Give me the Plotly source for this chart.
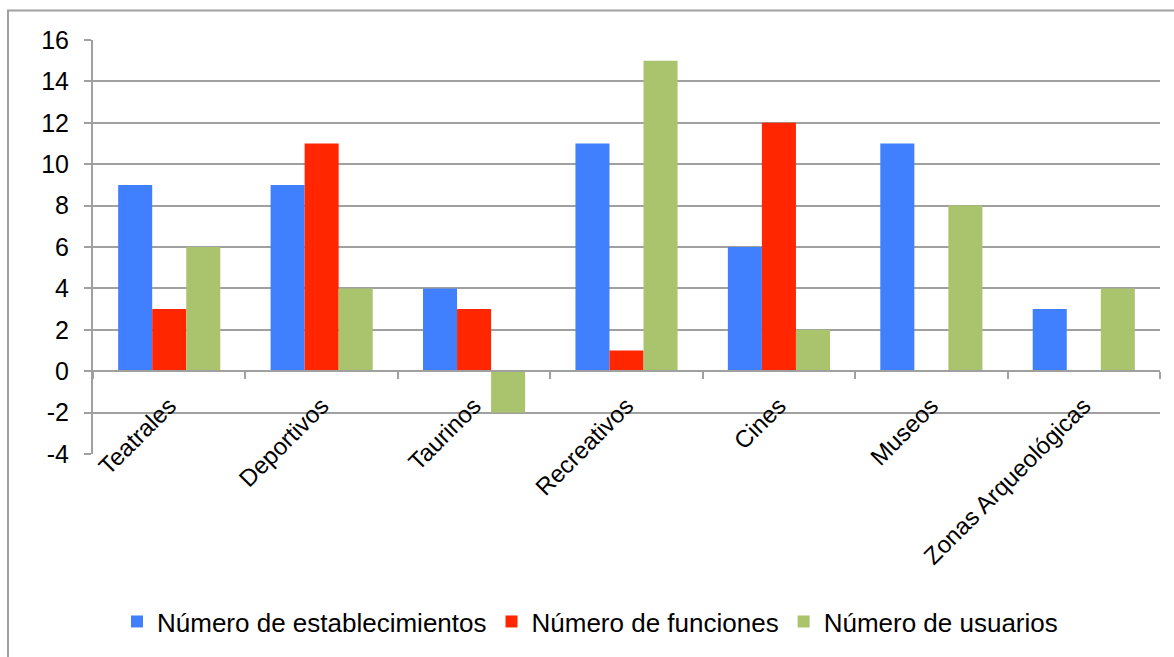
import plotly.graph_objects as go

categories = ["Teatrales", "Deportivos", "Taurinos", "Recreativos", "Cines", "Museos", "Zonas Arqueológicas"]
establecimientos = [9, 9, 4, 11, 6, 11, 3]
funciones = [3, 11, 3, 1, 12, None, None]
usuarios = [6, 4, -2, 15, 2, 8, 4]
series_names = ["Número de establecimientos", "Número de funciones", "Número de usuarios"]
colors = ["#4080FF", "#FF2600", "#A9C46C"]
y_ticks = [-4, -2, 0, 2, 4, 6, 8, 10, 12, 14, 16]

W, H = 1174, 657
L, R, T, B = 93, 14, 40, 197
pw = W - L - R
ph = H - T - B

fig = go.Figure()
for name, vals, col in zip(series_names, [establecimientos, funciones, usuarios], colors):
    fig.add_trace(go.Bar(x=categories, y=vals, name=name, marker=dict(color=col, line=dict(width=0))))

font = "Arial, Liberation Sans, Helvetica, sans-serif"
zero_pos = (0 - (-4)) / (16 - (-4))

fig.update_layout(
    width=W, height=H,
    margin=dict(l=L, r=R, t=T, b=B),
    paper_bgcolor="white", plot_bgcolor="white",
    barmode="group", bargap=0.33, bargroupgap=0,
    font=dict(family=font, color="black"),
    showlegend=True,
    legend=dict(orientation="h", x=(590 - L) / pw, xanchor="center", y=(-170) / ph, yanchor="middle",
                font=dict(size=26, family=font), itemwidth=30, traceorder="normal"),
    xaxis=dict(type="category", anchor="free", position=zero_pos, showline=True, linecolor="#A0A0A0",
               linewidth=2, ticks="outside", tickson="boundaries", ticklen=7, tickcolor="#A0A0A0",
               tickwidth=2, tickangle=-45, tickfont=dict(size=24, family=font), showgrid=False,
               ticklabelstandoff=10),
    yaxis=dict(range=[-4, 16], tickvals=y_ticks, ticktext=[str(v) for v in y_ticks],
               showgrid=True, gridcolor="#A0A0A0", gridwidth=2, zeroline=False,
               showline=True, linecolor="#A0A0A0", linewidth=2,
               ticks="outside", ticklen=7, tickcolor="#A0A0A0", tickwidth=2,
               tickfont=dict(size=25, family=font), ticklabelstandoff=10),
    shapes=[dict(type="rect", xref="paper", yref="paper",
                 x0=(8 - L) / pw, x1=(1185 - L) / pw,
                 y0=(ph + T - 670) / ph, y1=(ph + T - 10) / ph,
                 line=dict(color="#A0A0A0", width=2), fillcolor="rgba(0,0,0,0)", layer="below")],
)

fig.write_html("out.html")
